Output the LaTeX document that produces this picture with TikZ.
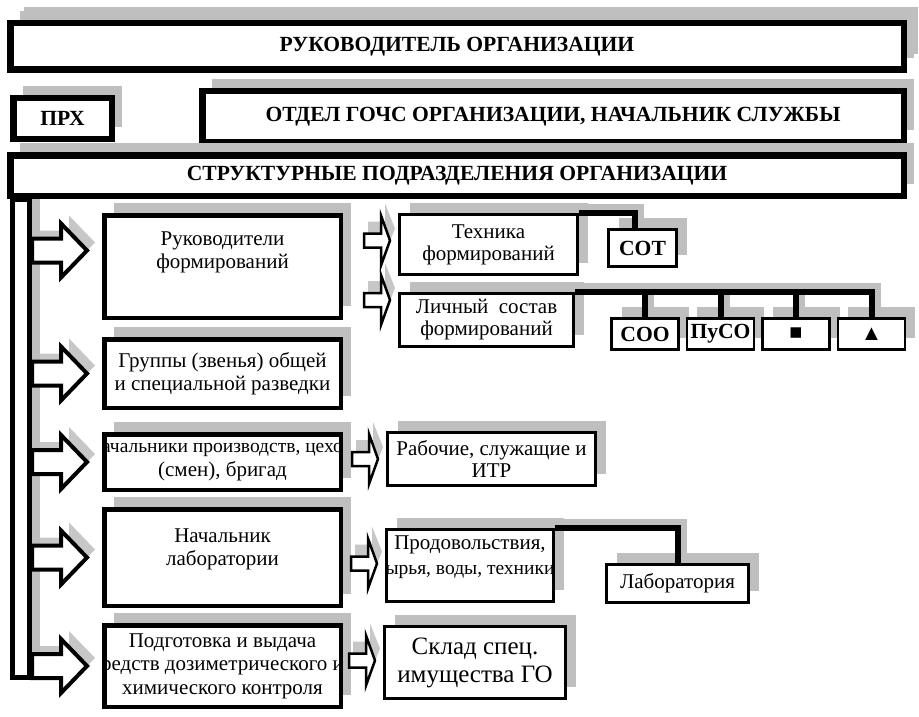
\documentclass[tikz,border=0pt]{standalone}
\usepackage{fontspec}
\setmainfont{Liberation Serif}
\usetikzlibrary{shadows,calc}

\begin{document}
\begin{tikzpicture}[x=1pt,y=-1pt,
	shade/.style={drop shadow={shadow xshift=10pt,shadow yshift=12pt,fill=black!25,opacity=1}},
	box/.style={draw,fill=white,line width=3pt,inner sep=0pt,align=center,shade,
		font=\fontsize{21}{22}\selectfont},
	title/.style={box,line width=6.5pt,font=\bfseries\fontsize{21.6}{24}\selectfont},
	unit/.style={box,line width=4.5pt,minimum width=236.5pt,font=\fontsize{21}{23.5}\selectfont},
	tag/.style={box,line width=2.5pt,minimum width=67pt,minimum height=31pt,
		font=\bfseries\fontsize{21.6}{24}\selectfont},
	txt/.style={align=center,inner sep=0pt,font=\fontsize{21}{23.5}\selectfont},
	link/.style={line width=6pt},
	linkshade/.style={line width=6pt,black!25,transform canvas={xshift=6pt,yshift=6pt}},
	bigarrow/.pic={
		\fill[black!22] (8,-20) -- (37,-20) -- (37,-35) -- (63,-8) -- (37,19) -- (37,4) -- (8,4) -- cycle;
		\draw[line width=4pt,fill=white] (0,-12) -- (29,-12) -- (29,-27) -- (55,0) -- (29,27) -- (29,12) -- (0,12) -- cycle;},
	smallarrow/.pic={
		\fill[black!22] (5,-12) -- (-5,-37) -- (-5,-19) -- (-22,-19) -- (-22,-5) -- (-5,-5) -- (-5,13) -- cycle;
		\draw[line width=2.5pt,fill=white] (0,0) -- (-9,-25) -- (-9,-7) -- (-26,-7) -- (-26,7) -- (-9,7) -- (-9,25) -- cycle;}]
\useasboundingbox (0,0) rectangle (919,717);

% left rail
\node[draw,fill=white,line width=5pt,minimum width=17pt,minimum height=478pt,shade] (bar) at (21,438.5) {};

% top levels
\node[title,minimum width=893.5pt,minimum height=46.5pt,
	drop shadow={shadow xshift=14pt,shadow yshift=16pt,fill=black!25,opacity=1}] (head) at (457,46.5) {РУКОВОДИТЕЛЬ ОРГАНИЗАЦИИ};
\node[title,minimum width=98.5pt,minimum height=40.5pt] (prx) at (62.5,118.5) {ПРХ};
\node[title,minimum width=701.5pt,minimum height=50.5pt] (dept) at (553,116.5) {ОТДЕЛ ГОЧС ОРГАНИЗАЦИИ, НАЧАЛЬНИК СЛУЖБЫ};
\node[title,minimum width=893.5pt,minimum height=40.5pt] (units) at (457,175.5) {СТРУКТУРНЫЕ ПОДРАЗДЕЛЕНИЯ ОРГАНИЗАЦИИ};

% left column
\node[unit,minimum height=102.5pt,path picture={
	\node[txt] (leadtext) at ($(path picture bounding box.center)+(0,-14)$) {Руководители\\формирований};}] (lead) at (222.5,266.5) {};
\node[unit,minimum height=68.5pt] (recon) at (222.5,373.5) {Группы (звенья) общей\\и специальной разведки};
\node[unit,minimum height=55.5pt,path picture={
	\node[txt] (shoptext) at (path picture bounding box.center) {{\fontsize{19.5}{23.5}\selectfont ачальники производств, цехо}\\(смен), бригад};}] (shop) at (222.5,462) {};
\node[unit,minimum height=96.5pt,path picture={
	\node[txt] (labheadtext) at ($(path picture bounding box.center)+(0,-8)$) {Начальник\\лаборатории};}] (labhead) at (222.5,557.5) {};
\node[unit,minimum height=81.5pt,path picture={
	\node[txt] (dosimtext) at (path picture bounding box.center) {Подготовка и выдача\\редств дозиметрического и\\химического контроля};}] (dosim) at (222.5,666) {};

\foreach \row/\dy in {lead/16,recon/0,shop/0,labhead/0,dosim/0}
	\pic at ($(bar.east |- \row.west)+(0,-\dy)$) {bigarrow};

% right column
\node[box,minimum width=178pt,minimum height=60pt] (tech) at (488.5,244.5) {Техника\\формирований};
\node[box,minimum width=174pt,minimum height=53pt] (staff) at (486.5,320) {Личный~~состав\\формирований};
\node[box,minimum width=208pt,minimum height=53pt] (work) at (491.5,459) {Рабочие, служащие и\\ИТР};
\node[box,minimum width=167pt,minimum height=72pt,path picture={
	\node[txt,font=\fontsize{21}{25}\selectfont] (foodtext) at ($(path picture bounding box.center)+(0,-8)$) {Продовольствия,\\{\fontsize{19.5}{25}\selectfont ырья, воды, техники}};}] (food) at (470,565.5) {};
\node[box,minimum width=142pt,minimum height=38pt] (lab) at (677.5,583.5) {Лаборатория};
\node[box,minimum width=181pt,minimum height=72pt,font=\fontsize{25}{28}\selectfont] (store) at (475,662.5) {Склад спец.\\имущества ГО};

\foreach \b/\dy in {tech/4,staff/20,work/0,food/2,store/2}
	\pic at ($(\b.west)+(-8,-\dy)$) {smallarrow};

% services
\node[tag,minimum width=68pt,minimum height=37pt] (sot) at (642.5,248) {СОТ};
\node[tag] (coo) at (645,334) {СОО};
\node[tag] (puso) at (720.5,334) {ПуСО};
\node[tag] (sq) at (796,334) {■};
\node[tag] (tri) at (871.5,334) {▲};

\draw[linkshade] (tech.north east) -| ([xshift=-8pt]sot.north);
\foreach \t in {coo,puso,sq,tri}
	\draw[linkshade] (staff.north east) -| (\t.north);
\draw[linkshade] (food.north east) -| (lab.north);

\draw[link] (tech.north east) -| ([xshift=-8pt]sot.north);
\foreach \t in {coo,puso,sq,tri}
	\draw[link] (staff.north east) -| (\t.north);
\draw[link] (food.north east) -| (lab.north);
\end{tikzpicture}
\end{document}
